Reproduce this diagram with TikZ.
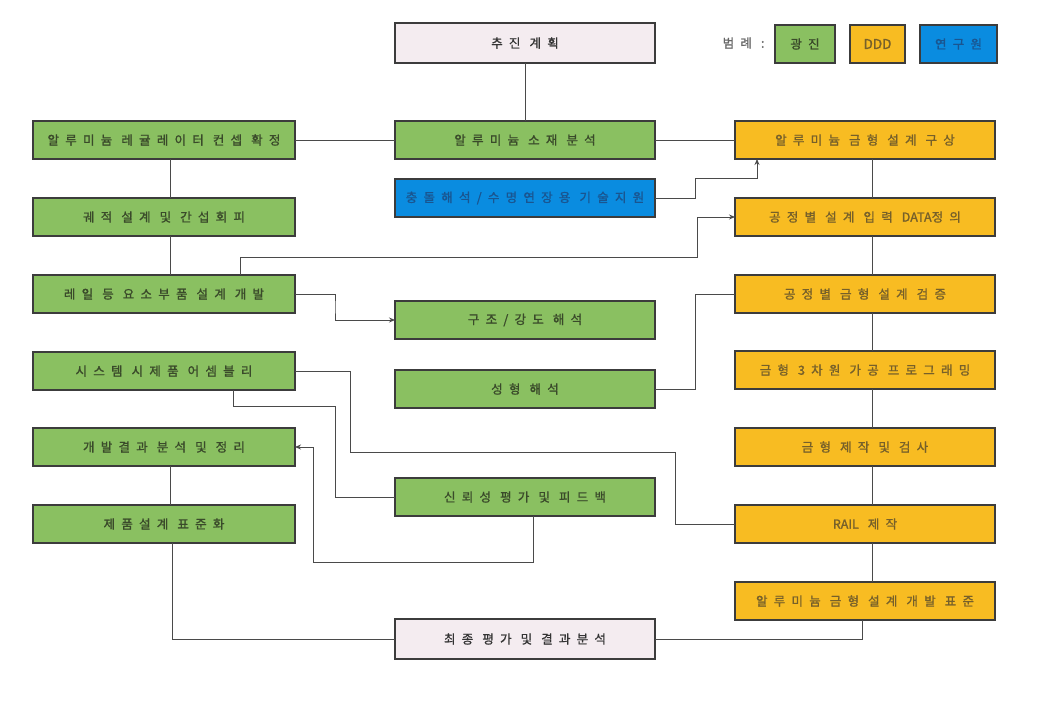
\documentclass[tikz,border=0pt]{standalone}
\usepackage{fontspec}
\newfontfamily\kr[LetterSpace=50, FakeBold=1.3]{Noto Sans CJK KR}
\newfontfamily\krp[FakeBold=1.3]{Noto Sans CJK KR}
\usetikzlibrary{arrows.meta}
\definecolor{gfill}{HTML}{8AC061}
\definecolor{ofill}{HTML}{F8BC22}
\definecolor{bfill}{HTML}{0A8CE0}
\definecolor{pfill}{HTML}{F4ECF0}
\definecolor{bord}{HTML}{3C3C3C}
\definecolor{gtext}{HTML}{3A4A2A}
\definecolor{otext}{HTML}{76602A}
\definecolor{btext}{HTML}{1A5590}
\definecolor{ln}{HTML}{4A4A4A}
\tikzset{
  box/.style={draw=bord, line width=1.6pt, anchor=north west, outer sep=0pt, minimum height=38pt, inner sep=0pt, font=\kr\fontsize{12.5}{15}\selectfont},
  gbox/.style={box, fill=gfill, text=gtext, minimum width=262pt},
  gboxm/.style={box, fill=gfill, text=gtext, minimum width=260pt},
  obox/.style={box, fill=ofill, text=otext, minimum width=260pt},
  bbox/.style={box, fill=bfill, text=btext, minimum width=260pt},
  pbox/.style={box, fill=pfill, text=black!80, minimum width=260pt, minimum height=40pt},
  conn/.style={draw=ln, line width=0.9pt},
  arr/.style={conn, -{Stealth[length=6pt,width=5pt]}}
}
\begin{document}
\begin{tikzpicture}[x=1pt,y=-1pt]
\useasboundingbox[fill=white] (0,0) rectangle (1059,704);
% legend
\node[anchor=east, text=black!60, font=\kr\fontsize{12.5}{15}\selectfont] (lgl) at (768,43) {범례 :};
\node[box, fill=gfill, text=gtext, minimum width=60pt, minimum height=38pt] (lg1) at (775,25) {광진};
\node[box, fill=ofill, text=otext, minimum width=55pt, minimum height=38pt, font=\krp\fontsize{13.5}{15}\selectfont] (lg2) at (850,25) {DDD};
\node[box, fill=bfill, text=btext, minimum width=77pt, minimum height=38pt] (lg3) at (920,25) {연구원};
% top
\node[pbox] (plan) at (395,23) {추진 계획};
% left column
\node[gbox] (reg) at (33,121) {알루미늄 레귤레이터 컨셉 확정};
\node[gbox] (traj) at (33,198) {궤적 설계 및 간섭회피};
\node[gbox] (rail) at (33,275) {레일 등 요소부품 설계 개발};
\node[gbox] (sys) at (33,352) {시스템 시제품 어셈블리};
\node[gbox] (res) at (33,428) {개발결과 분석 및 정리};
\node[gbox] (std) at (33,505) {제품설계 표준화};
% middle column
\node[gboxm] (mat) at (395,121) {알루미늄 소재 분석};
\node[bbox] (sup) at (395,179) {충돌해석/수명연장용 기술지원};
\node[gboxm] (str) at (395,301) {구조/강도 해석};
\node[gboxm] (form) at (395,370) {성형 해석};
\node[gboxm] (rel) at (395,478) {신뢰성 평가 및 피드백};
\node[pbox] (fin) at (395,619) {최종 평가 및 결과분석};
% right column
\node[obox] (mold) at (735,121) {알루미늄 금형 설계 구상};
\node[obox] (data) at (735,198) {공정별 설계 입력 {\krp DATA}정의};
\node[obox] (ver) at (735,275) {공정별 금형 설계 검증};
\node[obox] (cam) at (735,351) {금형 3차원 가공 프로그래밍};
\node[obox] (make) at (735,428) {금형 제작 및 검사};
\node[obox] (railm) at (735,505) {{\krp RAIL} 제작};
\node[obox] (mstd) at (735,582) {알루미늄 금형 설계 개발 표준};
% connectors
\draw[conn] (plan.south) -- (mat.north);
\draw[conn] (mat.west) -- (reg.east);
\draw[conn] (mat.east) -- (mold.west);
\draw[arr] (sup.east) -| (695,178) -| ([xshift=22pt]mold.south west);
\draw[conn] ([xshift=137pt]reg.south west) -- ([xshift=137pt]traj.north west);
\draw[conn] ([xshift=137pt]traj.south west) -- ([xshift=137pt]rail.north west);
\draw[arr] ([xshift=207pt]rail.north west) |- (697,257) |- (data.west);
\draw[arr] (rail.east) -| (335,307) |- (str.west);
\draw[conn] ([xshift=137pt]mold.south west) -- ([xshift=137pt]data.north west);
\draw[conn] ([xshift=137pt]data.south west) -- ([xshift=137pt]ver.north west);
\draw[conn] (form.east) -| (695,340) |- (ver.west);
\draw[conn] ([xshift=137pt]ver.south west) -- ([xshift=137pt]cam.north west);
\draw[conn] ([xshift=137pt]cam.south west) -- ([xshift=137pt]make.north west);
\draw[conn] ([xshift=137pt]make.south west) -- ([xshift=137pt]railm.north west);
\draw[conn] ([xshift=137pt]railm.south west) -- ([xshift=137pt]mstd.north west);
\draw[conn] (sys.east) -| (350,452) -| (675,490) |- (railm.west);
\draw[conn] ([xshift=200pt]sys.south west) |- (335,406) |- (rel.west);
\draw[arr] ([xshift=138pt]rel.south west) |- (313,562) |- (res.east);
\draw[conn] ([xshift=137pt]res.south west) -- ([xshift=137pt]std.north west);
\draw[conn] ([xshift=139pt]std.south west) |- (fin.west);
\draw[conn] ([xshift=127pt]mstd.south west) |- (fin.east);
\end{tikzpicture}
\end{document}
